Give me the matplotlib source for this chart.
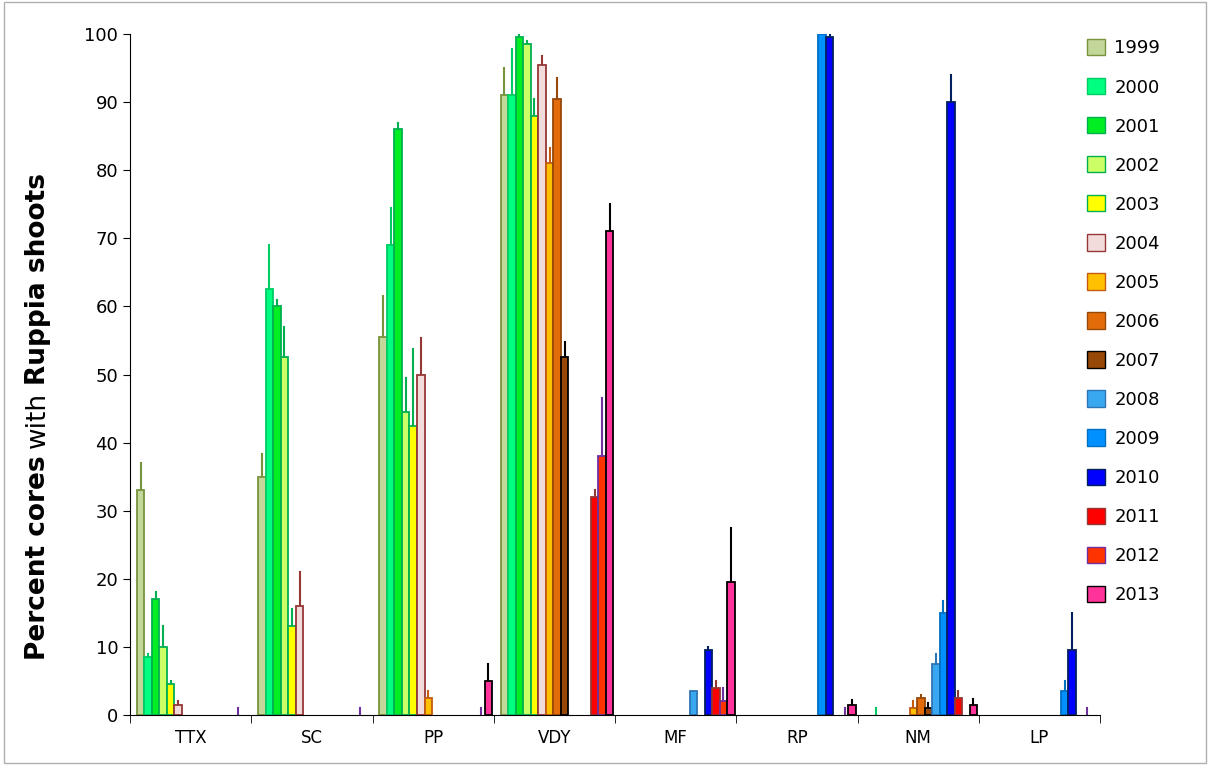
import matplotlib.pyplot as plt
import numpy as np
from matplotlib.patches import Patch

sites = ["TTX", "SC", "PP", "VDY", "MF", "RP", "NM", "LP"]
years = [str(y) for y in range(1999, 2014)]

fills = ["#c4d79b", "#00ff80", "#00ee22", "#ccff66", "#ffff00", "#f2dcdb", "#ffc000",
         "#e26b0a", "#974706", "#3aa8f0", "#0090ff", "#0000ff", "#ff0000", "#ff3300", "#ff3399"]
edges = ["#77933c", "#00cc66", "#00b050", "#00b050", "#00b050", "#953735", "#c55a11",
         "#984807", "#000000", "#2e75b6", "#0070c0", "#002060", "#953735", "#7030a0", "#000000"]

# values[site] = list of (year, mean, upper error end); missing years are absent
values = {
    "TTX": [(1999, 33, 37), (2000, 8.5, 9), (2001, 17, 18), (2002, 10, 13), (2003, 4.5, 5),
            (2004, 1.5, 2), (2012, 0, 1)],
    "SC": [(1999, 35, 38.3), (2000, 62.5, 69), (2001, 60, 61), (2002, 52.5, 57), (2003, 13, 15.5),
           (2004, 16, 21), (2012, 0, 1)],
    "PP": [(1999, 55.5, 61.5), (2000, 69, 74.5), (2001, 86, 87), (2002, 44.5, 49.5), (2003, 42.5, 53.8),
           (2004, 50, 55.3), (2005, 2.5, 3.5), (2012, 0, 1), (2013, 5, 7.5)],
    "VDY": [(1999, 91, 95), (2000, 91, 97.8), (2001, 99.5, 100), (2002, 98.5, 99), (2003, 88, 90.5),
            (2004, 95.5, 96.7), (2005, 81, 83.3), (2006, 90.5, 93.5), (2007, 52.5, 54.8),
            (2011, 32, 33), (2012, 38, 46.5), (2013, 71, 75)],
    "MF": [(2008, 3.5, 3.5), (2010, 9.5, 10), (2011, 4, 5), (2012, 2, 4), (2013, 19.5, 27.5)],
    "RP": [(2009, 100, 100), (2010, 99.5, 100), (2012, 0, 1), (2013, 1.5, 2.2)],
    "NM": [(2000, 0, 1), (2005, 1, 2), (2006, 2.5, 3), (2007, 1, 1.8), (2008, 7.5, 9),
           (2009, 15, 16.7), (2010, 90, 94), (2011, 2.5, 3.5), (2013, 1.5, 2.3)],
    "LP": [(2009, 3.5, 5), (2010, 9.5, 15), (2012, 0, 1)],
}

fig = plt.figure(figsize=(12.1, 7.65), dpi=100)
ax = fig.add_axes([130 / 1210, 50 / 765, 970 / 1210, 681 / 765])

bw = 0.062
for g, site in enumerate(sites):
    for yr, m, top in values[site]:
        i = yr - 1999
        x = g + 0.088 + bw * i
        if m > 0:
            ax.bar(x, m, width=bw, color=fills[i], edgecolor=edges[i], linewidth=1.3, zorder=2)
        if top > m:
            ax.plot([x, x], [m, top], color=edges[i], lw=1.5, zorder=1)

ax.set_xlim(0, len(sites))
ax.set_ylim(0, 100)
ax.set_yticks(range(0, 101, 10))
ax.set_xticks(np.arange(len(sites)) + 0.5)
ax.set_xticklabels(sites)
ax.set_xticks(range(len(sites) + 1), minor=True)
ax.tick_params(axis="x", which="major", length=0, labelsize=12, pad=10)
ax.tick_params(axis="x", which="minor", length=6, direction="out")
ax.tick_params(axis="y", labelsize=13, direction="out", length=5)
for s in ["top", "right"]:
    ax.spines[s].set_visible(False)

handles = [Patch(facecolor=fills[i], edgecolor=edges[i], label=years[i]) for i in range(15)]
fig.legend(handles=handles, loc="upper left", bbox_to_anchor=(1080 / 1210, 1 - 32 / 765),
           frameon=False, fontsize=13, labelspacing=1.15, handlelength=1.0, handleheight=1.0,
           handletextpad=0.5, borderaxespad=0)

# y label in three pieces (mixed bold / normal), stacked bottom to top
fig.canvas.draw()
r = fig.canvas.get_renderer()
y = 1 - 660 / 765
for txt, w in [("Percent cores", "bold"), ("with", "normal"), ("Ruppia shoots", "bold")]:
    t = fig.text(0.031, y, txt, rotation=90, fontsize=19, fontweight=w, va="bottom", ha="center")
    h = t.get_window_extent(r).height / fig.bbox.height
    y += h + 7 / 765

fig.patches.append(plt.Rectangle((0.003, 0.003), 0.994, 0.994, transform=fig.transFigure,
                                 fill=False, edgecolor="#b0b0b0", lw=1))
fig.savefig("out.png", dpi=100)
